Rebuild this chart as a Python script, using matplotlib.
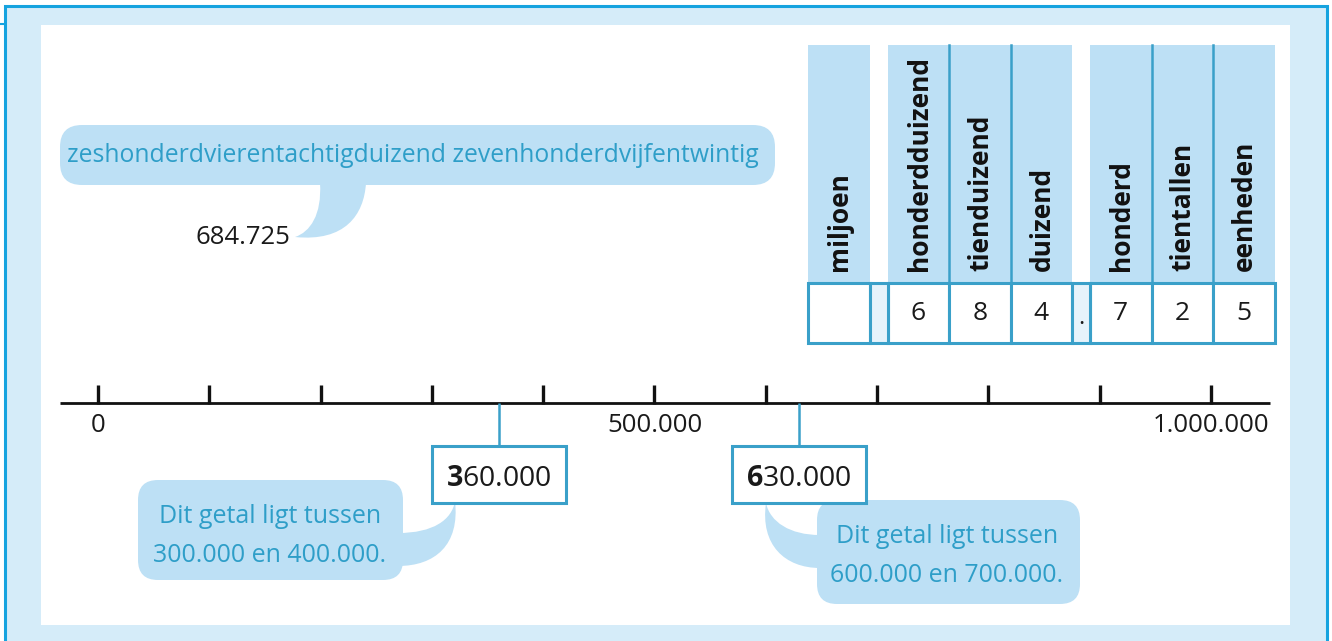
import matplotlib
matplotlib.use("Agg")
import matplotlib.pyplot as plt
from matplotlib.patches import FancyBboxPatch, Rectangle, PathPatch
from matplotlib.path import Path

plt.rcParams['font.family'] = ['Open Sans', 'DejaVu Sans']
plt.rcParams['mathtext.fontset'] = 'custom'
plt.rcParams['mathtext.rm'] = 'Open Sans'
plt.rcParams['mathtext.bf'] = 'Open Sans:bold'

# ---------------- data ----------------
number_words = "zeshonderdvierentachtigduizend zevenhonderdvijfentwintig"
number_label = "684.725"
place_names = ["miljoen", "honderdduizend", "tienduizend", "duizend",
               "honderd", "tientallen", "eenheden"]
place_digits = ["", "6", "8", "4", "7", "2", "5"]
axis_min, axis_max, axis_step = 0, 1000000, 100000
axis_label_values = [0, 500000, 1000000]
axis_labels = ["0", "500.000", "1.000.000"]
marked_values = [360000, 630000]
marked_bold = ["3", "6"]
marked_rest = ["60.000", "30.000"]
callout_texts = ["Dit getal ligt tussen\n300.000 en 400.000.",
                 "Dit getal ligt tussen\n600.000 en 700.000."]

# ---------------- style ----------------
W, H = 1332, 641
FRAME = "#d5ecf9"
BORDER = "#16a3df"
BUBBLE = "#bde0f5"
LINEBLUE = "#3aa0c9"
TEXTBLUE = "#2e9ec8"
GAPFILL = "#e6f3fb"

fig = plt.figure(figsize=(W / 100, H / 100), dpi=100)
fig.patch.set_facecolor("white")

deco = fig.add_axes([0, 0, 1, 1])
deco.set_xlim(0, W)
deco.set_ylim(H, 0)
deco.axis("off")

# outer frame
deco.add_patch(Rectangle((5, 6), 1322, 700, facecolor=FRAME, edgecolor=BORDER, lw=2.2, zorder=0))
deco.plot([0, 5], [24, 24], color=BORDER, lw=1.5, zorder=1)
deco.add_patch(Rectangle((41, 25), 1249, 600, facecolor="white", edgecolor="none", zorder=1))

# ---------- top word bubble ----------
deco.add_patch(FancyBboxPatch((60, 125), 715, 60, boxstyle="round,pad=0,rounding_size=22",
                              facecolor=BUBBLE, edgecolor="none", zorder=2))
tail = Path([(320, 183), (322, 215), (310, 232), (295, 237),
             (345, 242), (364, 215), (366, 183), (320, 183)],
            [Path.MOVETO, Path.CURVE4, Path.CURVE4, Path.CURVE4,
             Path.CURVE4, Path.CURVE4, Path.CURVE4, Path.CLOSEPOLY])
deco.add_patch(PathPatch(tail, facecolor=BUBBLE, edgecolor="none", zorder=2))
deco.text(413, 156, number_words, color=TEXTBLUE, fontsize=17.8, ha="center", va="center", zorder=3)
deco.text(290, 237, number_label, color="#1a1a1a", fontsize=18.5, ha="right", va="center", zorder=3)

# ---------- place value table ----------
col_w, gap_w = 61.5, 18
top, mid, bot = 45, 283, 343
x = 808
cols = []
gaps = []
for i, name in enumerate(place_names):
    if i in (1, 4):
        gaps.append((x, "" if i == 1 else "."))
        x += gap_w
    cols.append(x)
    x += col_w
for i, cx in enumerate(cols):
    deco.add_patch(Rectangle((cx, top), col_w, mid - top, facecolor=BUBBLE, edgecolor="none", zorder=2))
    deco.text(cx + col_w / 2 + 1, 271, place_names[i], rotation=90, ha="center", va="bottom",
              fontsize=19, fontweight="bold", color="#111111", zorder=3)
for i in range(1, len(cols)):
    if i not in (1, 4):
        deco.plot([cols[i], cols[i]], [top, mid], color=LINEBLUE, lw=1.8, zorder=3)
for i, cx in enumerate(cols):
    deco.add_patch(Rectangle((cx, mid), col_w, bot - mid, facecolor="white", edgecolor=LINEBLUE,
                             lw=2.2, zorder=3))
    deco.text(cx + col_w / 2, 313, place_digits[i], ha="center", va="center",
              fontsize=19, color="#1a1a1a", zorder=4)
for gx, lab in gaps:
    deco.add_patch(Rectangle((gx, mid), gap_w, bot - mid, facecolor=GAPFILL, edgecolor=LINEBLUE,
                             lw=2.2, zorder=3))
    deco.text(gx + gap_w / 2, 318, lab, ha="center", va="center", fontsize=17, color="#1a1a1a", zorder=4)

# ---------- number line (data axes) ----------
px0, px1 = 98, 1211          # pixel position of axis_min / axis_max
scale = (axis_max - axis_min) / (px1 - px0)
nl = fig.add_axes([0, 0, 1, 1])
nl.set_xlim(axis_min - px0 * scale, axis_min + (W - px0) * scale)
nl.set_ylim(H, 0)
nl.axis("off")
nl.patch.set_visible(False)

line_y = 403
nl.plot([axis_min - 38 * scale, axis_max + 59 * scale], [line_y, line_y], color="#111111", lw=2.0,
        solid_capstyle="butt", zorder=3)
ticks = list(range(axis_min, axis_max + 1, axis_step))
nl.vlines(ticks, 385, line_y + 1, color="#111111", lw=2.4, zorder=3)
for v, lab in zip(axis_label_values, axis_labels):
    nl.text(v, 425, lab, ha="center", va="center", fontsize=18.5, color="#1a1a1a", zorder=3)

box_w, box_top, box_bot = 134, 446, 503
for v, b, r in zip(marked_values, marked_bold, marked_rest):
    nl.vlines([v], line_y, box_top, color=LINEBLUE, lw=1.8, zorder=3)
    nl.add_patch(Rectangle((v - box_w / 2 * scale, box_top), box_w * scale, box_bot - box_top,
                           facecolor="white", edgecolor=LINEBLUE, lw=2.2, zorder=4))
    nl.text(v, 479, r"$\mathbf{%s}$%s" % (b, r), ha="center", va="center", fontsize=20.5,
            color="#1a1a1a", zorder=5)

# ---------- callout bubbles ----------
deco.add_patch(FancyBboxPatch((138, 480), 265, 100, boxstyle="round,pad=0,rounding_size=20",
                              facecolor=BUBBLE, edgecolor="none", zorder=2))
t1 = Path([(398, 533), (433, 533), (452, 520), (455, 501),
           (460, 545), (435, 566), (398, 566), (398, 533)],
          [Path.MOVETO, Path.CURVE4, Path.CURVE4, Path.CURVE4,
           Path.CURVE4, Path.CURVE4, Path.CURVE4, Path.CLOSEPOLY])
deco.add_patch(PathPatch(t1, facecolor=BUBBLE, edgecolor="none", zorder=2))
deco.text(270, 536, callout_texts[0], ha="center", va="center", fontsize=18, color=TEXTBLUE,
          linespacing=1.75, zorder=3)

deco.add_patch(FancyBboxPatch((817, 500), 263, 104, boxstyle="round,pad=0,rounding_size=20",
                              facecolor=BUBBLE, edgecolor="none", zorder=2))
t2 = Path([(820, 535), (790, 535), (770, 522), (766, 503),
           (760, 545), (785, 568), (820, 568), (820, 535)],
          [Path.MOVETO, Path.CURVE4, Path.CURVE4, Path.CURVE4,
           Path.CURVE4, Path.CURVE4, Path.CURVE4, Path.CLOSEPOLY])
deco.add_patch(PathPatch(t2, facecolor=BUBBLE, edgecolor="none", zorder=2))
deco.text(947, 556, callout_texts[1], ha="center", va="center", fontsize=18, color=TEXTBLUE,
          linespacing=1.75, zorder=3)

fig.savefig("out.png", dpi=100, facecolor=fig.get_facecolor())
